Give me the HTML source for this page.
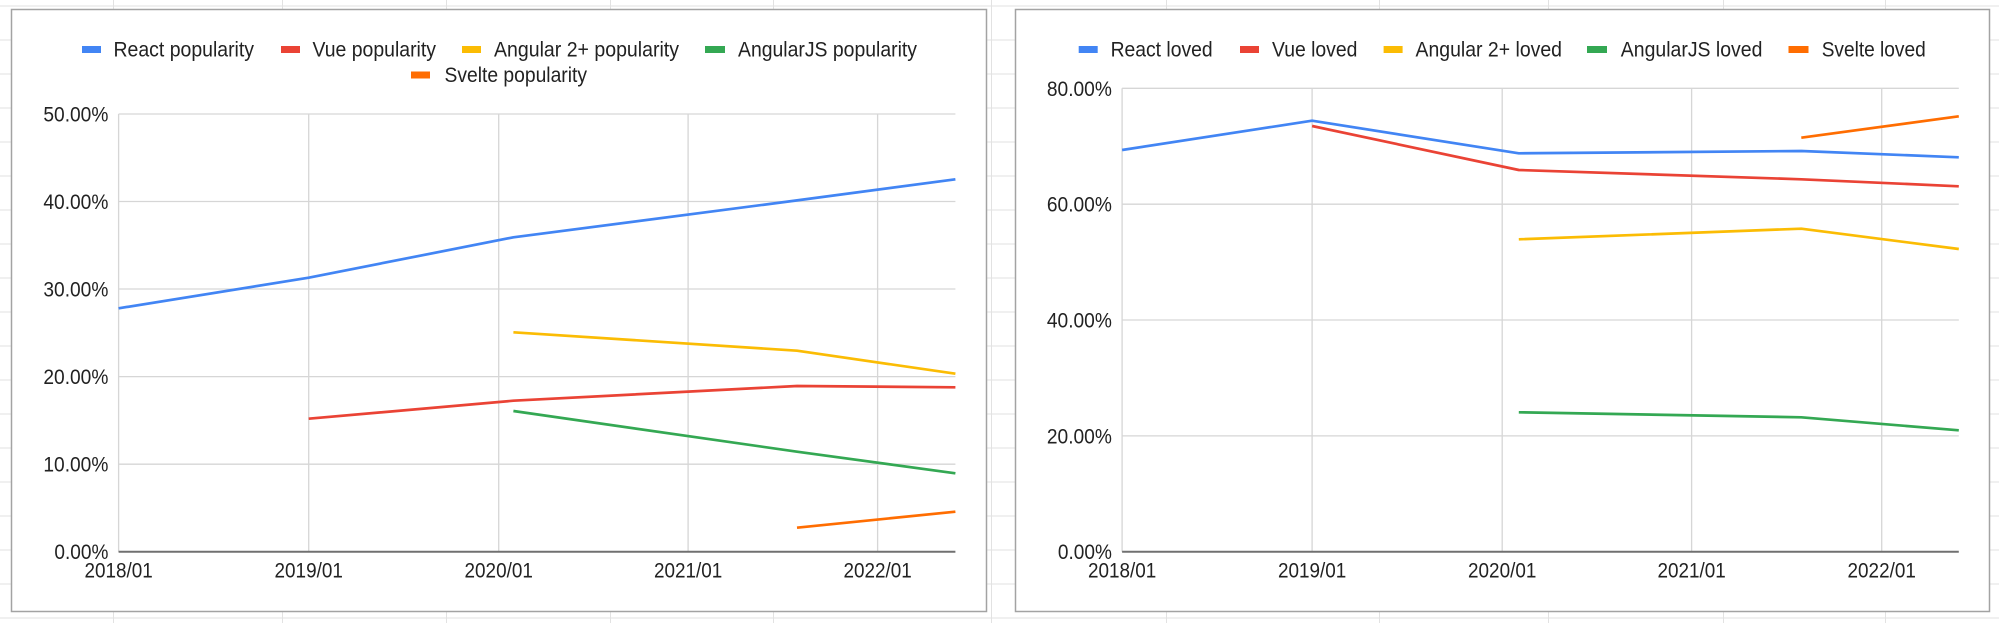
<!DOCTYPE html>
<html>
<head>
<meta charset="utf-8">
<style>
html,body{margin:0;padding:0;background:#fff;}
svg{display:block;}
text{font-family:"Liberation Sans",Arial,sans-serif;fill:#222;}
</style>
</head>
<body>
<svg width="1999" height="623" viewBox="0 0 1999 623" xmlns="http://www.w3.org/2000/svg">
  <rect x="0" y="0" width="1999" height="623" fill="#fff"/>
  <!-- spreadsheet grid -->
  <g stroke="#e2e2e2" stroke-width="1">
    <line x1="0" y1="6" x2="1999" y2="6"/>
    <line x1="0" y1="40" x2="1999" y2="40"/>
    <line x1="0" y1="74" x2="1999" y2="74"/>
    <line x1="0" y1="108" x2="1999" y2="108"/>
    <line x1="0" y1="142" x2="1999" y2="142"/>
    <line x1="0" y1="176" x2="1999" y2="176"/>
    <line x1="0" y1="210" x2="1999" y2="210"/>
    <line x1="0" y1="244" x2="1999" y2="244"/>
    <line x1="0" y1="278" x2="1999" y2="278"/>
    <line x1="0" y1="312" x2="1999" y2="312"/>
    <line x1="0" y1="346" x2="1999" y2="346"/>
    <line x1="0" y1="380" x2="1999" y2="380"/>
    <line x1="0" y1="414" x2="1999" y2="414"/>
    <line x1="0" y1="448" x2="1999" y2="448"/>
    <line x1="0" y1="482" x2="1999" y2="482"/>
    <line x1="0" y1="516" x2="1999" y2="516"/>
    <line x1="0" y1="550" x2="1999" y2="550"/>
    <line x1="0" y1="584" x2="1999" y2="584"/>
    <line x1="0" y1="618" x2="1999" y2="618"/>
    <line x1="113.5" y1="0" x2="113.5" y2="623"/>
    <line x1="282.5" y1="0" x2="282.5" y2="623"/>
    <line x1="446.5" y1="0" x2="446.5" y2="623"/>
    <line x1="610.5" y1="0" x2="610.5" y2="623"/>
    <line x1="773.5" y1="0" x2="773.5" y2="623"/>
    <line x1="991.5" y1="0" x2="991.5" y2="623"/>
    <line x1="1166.5" y1="0" x2="1166.5" y2="623"/>
    <line x1="1379.5" y1="0" x2="1379.5" y2="623"/>
    <line x1="1548.5" y1="0" x2="1548.5" y2="623"/>
    <line x1="1723.5" y1="0" x2="1723.5" y2="623"/>
    <line x1="1885.5" y1="0" x2="1885.5" y2="623"/>
  </g>

  <!-- LEFT CHART -->
  <rect x="11.5" y="9.5" width="975" height="602" fill="#fff" stroke="#a3a3a3" stroke-width="1.5"/>
  <g stroke="#d6d6d6" stroke-width="1.3">
    <line x1="118.6" y1="114" x2="955.4" y2="114"/>
    <line x1="118.6" y1="201.5" x2="955.4" y2="201.5"/>
    <line x1="118.6" y1="289" x2="955.4" y2="289"/>
    <line x1="118.6" y1="376.6" x2="955.4" y2="376.6"/>
    <line x1="118.6" y1="464.2" x2="955.4" y2="464.2"/>
    <line x1="118.6" y1="114" x2="118.6" y2="551.7"/>
    <line x1="308.7" y1="114" x2="308.7" y2="551.7"/>
    <line x1="498.7" y1="114" x2="498.7" y2="551.7"/>
    <line x1="688.1" y1="114" x2="688.1" y2="551.7"/>
    <line x1="877.6" y1="114" x2="877.6" y2="551.7"/>
  </g>
  <line x1="118.6" y1="551.7" x2="955.4" y2="551.7" stroke="#707070" stroke-width="2"/>
  <g font-size="21" text-anchor="end" lengthAdjust="spacingAndGlyphs">
    <text x="108.4" y="121.5" textLength="65" lengthAdjust="spacingAndGlyphs">50.00%</text>
    <text x="108.4" y="209" textLength="65" lengthAdjust="spacingAndGlyphs">40.00%</text>
    <text x="108.4" y="296.5" textLength="65" lengthAdjust="spacingAndGlyphs">30.00%</text>
    <text x="108.4" y="384.1" textLength="65" lengthAdjust="spacingAndGlyphs">20.00%</text>
    <text x="108.4" y="471.7" textLength="65" lengthAdjust="spacingAndGlyphs">10.00%</text>
    <text x="108.4" y="559" textLength="54" lengthAdjust="spacingAndGlyphs">0.00%</text>
  </g>
  <g font-size="21" text-anchor="middle">
    <text x="118.6" y="577.5" textLength="68.3" lengthAdjust="spacingAndGlyphs">2018/01</text>
    <text x="308.7" y="577.5" textLength="68.3" lengthAdjust="spacingAndGlyphs">2019/01</text>
    <text x="498.7" y="577.5" textLength="68.3" lengthAdjust="spacingAndGlyphs">2020/01</text>
    <text x="688.1" y="577.5" textLength="68.3" lengthAdjust="spacingAndGlyphs">2021/01</text>
    <text x="877.6" y="577.5" textLength="68.3" lengthAdjust="spacingAndGlyphs">2022/01</text>
  </g>
  <!-- legend left -->
  <rect x="82" y="46" width="19" height="7" fill="#4285f4"/>
  <text x="113.5" y="56.5" font-size="21" textLength="140.5" lengthAdjust="spacingAndGlyphs">React popularity</text>
  <rect x="281" y="46" width="19" height="7" fill="#ea4335"/>
  <text x="312.5" y="56.5" font-size="21" textLength="123.5" lengthAdjust="spacingAndGlyphs">Vue popularity</text>
  <rect x="462" y="46" width="19" height="7" fill="#fbbc04"/>
  <text x="494" y="56.5" font-size="21" textLength="185" lengthAdjust="spacingAndGlyphs">Angular 2+ popularity</text>
  <rect x="705" y="46" width="20" height="7" fill="#34a853"/>
  <text x="738" y="56.5" font-size="21" textLength="179" lengthAdjust="spacingAndGlyphs">AngularJS popularity</text>
  <rect x="411" y="71.5" width="19" height="7" fill="#ff6d01"/>
  <text x="444.5" y="82" font-size="21" textLength="142.5" lengthAdjust="spacingAndGlyphs">Svelte popularity</text>
  <!-- series left -->
  <g fill="none" stroke-width="2.7" stroke-linejoin="round" stroke-linecap="butt">
    <polyline stroke="#4285f4" points="118.6,308.3 308.7,277.7 513.4,237.3 797,200.4 955.4,179.3"/>
    <polyline stroke="#ea4335" points="308.7,418.7 513.4,400.7 797,386 955.4,387.3"/>
    <polyline stroke="#fbbc04" points="513.4,332.3 797,350.7 955.4,373.7"/>
    <polyline stroke="#34a853" points="513.4,411 797,451.7 955.4,473.3"/>
    <polyline stroke="#ff6d01" points="797,527.7 955.4,511.7"/>
  </g>

  <!-- RIGHT CHART -->
  <rect x="1015.5" y="9.5" width="974" height="602" fill="#fff" stroke="#a3a3a3" stroke-width="1.5"/>
  <g stroke="#d6d6d6" stroke-width="1.3">
    <line x1="1122.1" y1="88.3" x2="1958.8" y2="88.3"/>
    <line x1="1122.1" y1="204.2" x2="1958.8" y2="204.2"/>
    <line x1="1122.1" y1="320" x2="1958.8" y2="320"/>
    <line x1="1122.1" y1="435.9" x2="1958.8" y2="435.9"/>
    <line x1="1122.1" y1="88.3" x2="1122.1" y2="551.7"/>
    <line x1="1312.1" y1="88.3" x2="1312.1" y2="551.7"/>
    <line x1="1502.2" y1="88.3" x2="1502.2" y2="551.7"/>
    <line x1="1691.6" y1="88.3" x2="1691.6" y2="551.7"/>
    <line x1="1881.7" y1="88.3" x2="1881.7" y2="551.7"/>
  </g>
  <line x1="1122.1" y1="551.7" x2="1958.8" y2="551.7" stroke="#707070" stroke-width="2"/>
  <g font-size="21" text-anchor="end">
    <text x="1111.9" y="95.8" textLength="65" lengthAdjust="spacingAndGlyphs">80.00%</text>
    <text x="1111.9" y="211.7" textLength="65" lengthAdjust="spacingAndGlyphs">60.00%</text>
    <text x="1111.9" y="327.5" textLength="65" lengthAdjust="spacingAndGlyphs">40.00%</text>
    <text x="1111.9" y="443.4" textLength="65" lengthAdjust="spacingAndGlyphs">20.00%</text>
    <text x="1111.9" y="559" textLength="54" lengthAdjust="spacingAndGlyphs">0.00%</text>
  </g>
  <g font-size="21" text-anchor="middle">
    <text x="1122.1" y="577.5" textLength="68.3" lengthAdjust="spacingAndGlyphs">2018/01</text>
    <text x="1312.1" y="577.5" textLength="68.3" lengthAdjust="spacingAndGlyphs">2019/01</text>
    <text x="1502.2" y="577.5" textLength="68.3" lengthAdjust="spacingAndGlyphs">2020/01</text>
    <text x="1691.6" y="577.5" textLength="68.3" lengthAdjust="spacingAndGlyphs">2021/01</text>
    <text x="1881.7" y="577.5" textLength="68.3" lengthAdjust="spacingAndGlyphs">2022/01</text>
  </g>
  <!-- legend right -->
  <rect x="1078.7" y="46" width="19" height="7" fill="#4285f4"/>
  <text x="1110.6" y="56.5" font-size="21" textLength="102" lengthAdjust="spacingAndGlyphs">React loved</text>
  <rect x="1240" y="46" width="19" height="7" fill="#ea4335"/>
  <text x="1272" y="56.5" font-size="21" textLength="85.4" lengthAdjust="spacingAndGlyphs">Vue loved</text>
  <rect x="1383.6" y="46" width="19" height="7" fill="#fbbc04"/>
  <text x="1415.5" y="56.5" font-size="21" textLength="146.5" lengthAdjust="spacingAndGlyphs">Angular 2+ loved</text>
  <rect x="1587" y="46" width="20" height="7" fill="#34a853"/>
  <text x="1620.8" y="56.5" font-size="21" textLength="141.6" lengthAdjust="spacingAndGlyphs">AngularJS loved</text>
  <rect x="1788.5" y="46" width="20" height="7" fill="#ff6d01"/>
  <text x="1821.7" y="56.5" font-size="21" textLength="104" lengthAdjust="spacingAndGlyphs">Svelte loved</text>
  <!-- series right -->
  <g fill="none" stroke-width="2.7" stroke-linejoin="round" stroke-linecap="butt">
    <polyline stroke="#4285f4" points="1122.1,150 1312.1,120.7 1518.8,153.3 1801.3,151 1958.8,157.3"/>
    <polyline stroke="#ea4335" points="1312.1,126 1518.8,170 1801.3,179.3 1958.8,186.3"/>
    <polyline stroke="#fbbc04" points="1518.8,239.3 1801.3,228.7 1958.8,249"/>
    <polyline stroke="#34a853" points="1518.8,412.3 1801.3,417.3 1958.8,430.3"/>
    <polyline stroke="#ff6d01" points="1801.3,137.7 1958.8,116.3"/>
  </g>
</svg>
</body>
</html>
